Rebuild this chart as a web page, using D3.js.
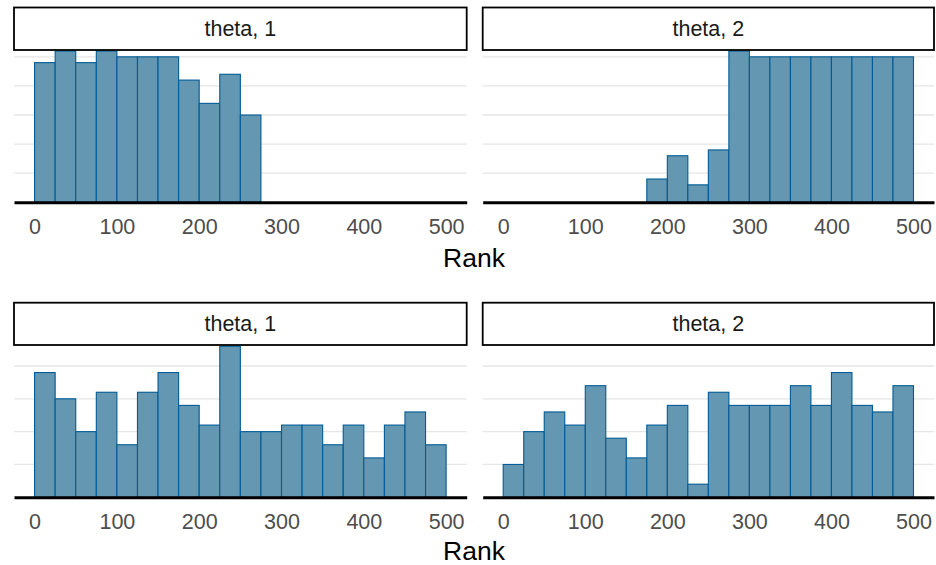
<!DOCTYPE html>
<html>
<head>
<meta charset="utf-8">
<script src="https://cdn.jsdelivr.net/npm/d3@7"></script>
<style>
  html, body { margin: 0; padding: 0; background: #ffffff; }
  svg { display: block; font-family: "Liberation Sans", Arial, Helvetica, sans-serif; }
</style>
</head>
<body>
<svg id="chart" width="936" height="565"></svg>
<script>
// ---- data ----
const binStarts = [0,25,50,75,100,125,150,175,200,225,250,275,300,325,350,375,400,425,450,475];
const binWidth = 25;
const tickValues = [0, 100, 200, 300, 400, 500];
const stripLabels = ["theta, 1", "theta, 2"];
const axisTitle = "Rank";

const topTheta1 = [24,26,24,26,25,25,25,21,17,22,15,0,0,0,0,0,0,0,0,0];
const topTheta2 = [0,0,0,0,0,0,0,4,8,3,9,26,25,25,25,25,25,25,25,25];
const bottomTheta1 = [19,15,10,16,8,16,19,14,11,23,10,10,11,11,8,11,6,11,13,8];
const bottomTheta2 = [5,10,13,11,17,9,6,11,14,2,16,14,14,14,17,14,19,14,13,17];

const topGrid = [5,10,15,20,25];
const bottomGrid = [5,10,15,20];

// ---- layout ----
const svg = d3.select("#chart");
const cols = [{x0: 14, x1: 466.7}, {x0: 482.7, x1: 934}];
const rows = [
  {stripTop: 7.5, stripBottom: 50, plotTop: 51, base: 202.3, yMax: 26, grid: topGrid,
   series: [topTheta1, topTheta2], tickBaseline: 234, titleBaseline: 266.5},
  {stripTop: 302.7, stripBottom: 345, plotTop: 346.3, base: 497.3, yMax: 23, grid: bottomGrid,
   series: [bottomTheta1, bottomTheta2], tickBaseline: 529.5, titleBaseline: 559.5}
];

const fillCol = "#6497b1";
const strokeCol = "#005b96";

rows.forEach(row => {
  const y = d3.scaleLinear().domain([0, row.yMax]).range([row.base, row.plotTop]);
  cols.forEach((col, ci) => {
    const x = d3.scaleLinear().domain([-25, 525]).range([col.x0, col.x1]);
    const g = svg.append("g");

    // gridlines
    g.selectAll("line.grid").data(row.grid).enter().append("line")
      .attr("x1", col.x0).attr("x2", col.x1)
      .attr("y1", d => y(d)).attr("y2", d => y(d))
      .attr("stroke", "#e6e6e6").attr("stroke-width", 1.3);

    // bars
    const bins = binStarts.map((s, i) => ({s: s, v: row.series[ci][i]})).filter(d => d.v > 0);
    g.selectAll("rect.bar").data(bins).enter().append("rect")
      .attr("x", d => x(d.s))
      .attr("width", d => x(d.s + binWidth) - x(d.s))
      .attr("y", d => y(d.v))
      .attr("height", d => y(0) - y(d.v))
      .attr("fill", fillCol)
      .attr("stroke", strokeCol)
      .attr("stroke-width", 1.1);

    // axis
    const tickFont = 21.5;
    const axis = d3.axisBottom(x).tickValues(tickValues).tickSize(0).tickSizeOuter(0)
      .tickPadding(row.tickBaseline - row.base - 0.71 * tickFont).tickFormat(d3.format("d"));
    const ag = g.append("g").attr("transform", `translate(0,${row.base})`).call(axis);
    ag.select(".domain").attr("stroke", "#000").attr("stroke-width", 3);
    ag.selectAll("text").attr("fill", "#4d4d4d").style("font-size", tickFont + "px")
      .style("font-family", "'Liberation Sans', Arial, sans-serif");

    // strip
    g.append("rect")
      .attr("x", col.x0).attr("y", row.stripTop)
      .attr("width", col.x1 - col.x0).attr("height", row.stripBottom - row.stripTop)
      .attr("fill", "#ffffff").attr("stroke", "#000000").attr("stroke-width", 1.8);
    g.append("text")
      .attr("x", (col.x0 + col.x1) / 2)
      .attr("y", (row.stripTop + row.stripBottom) / 2)
      .attr("dy", "0.35em")
      .attr("text-anchor", "middle")
      .attr("fill", "#1a1a1a")
      .style("font-size", "21.5px")
      .text(stripLabels[ci]);
  });

  // axis title
  svg.append("text")
    .attr("x", (cols[0].x0 + cols[1].x1) / 2)
    .attr("y", row.titleBaseline)
    .attr("text-anchor", "middle")
    .attr("fill", "#000")
    .style("font-size", "26.5px")
    .text(axisTitle);
});
</script>
</body>
</html>
